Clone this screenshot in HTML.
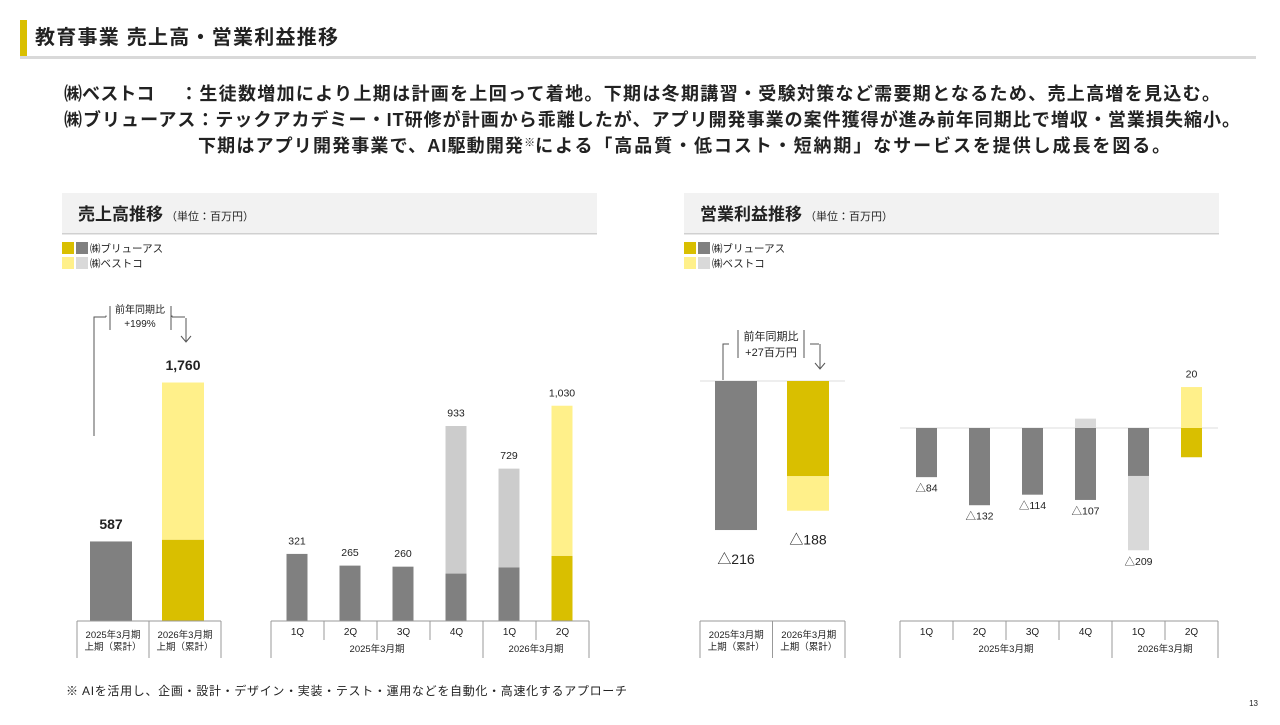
<!DOCTYPE html>
<html><head><meta charset="utf-8">
<style>
body{margin:0;background:#fff;width:1280px;height:720px;overflow:hidden;font-family:"Liberation Sans","Noto Sans CJK JP",sans-serif;}
svg text{font-family:"Liberation Sans","Noto Sans CJK JP",sans-serif;fill:#222;}
</style></head><body>
<svg id="s" width="1280" height="720" xmlns="http://www.w3.org/2000/svg">
<rect x="20" y="20" width="7" height="38" fill="#d9bf00"/>
<rect x="20" y="56" width="1236" height="3" fill="#d9d9d9"/>
<text x="35" y="44" font-size="20" font-weight="bold" textLength="303">教育事業 売上高・営業利益推移</text>
<g font-size="18" font-weight="bold">
<text x="64" y="100">㈱ベストコ</text><text x="180" y="100" textLength="1040">：生徒数増加により上期は計画を上回って着地。下期は冬期講習・受験対策など需要期となるため、売上高増を見込む。</text>
<text x="64" y="126" textLength="1176">㈱ブリューアス：テックアカデミー・IT研修が計画から乖離したが、アプリ開発事業の案件獲得が進み前年同期比で増収・営業損失縮小。</text>
<text x="198" y="152"><tspan textLength="325">下期はアプリ開発事業で、AI駆動開発</tspan><tspan font-size="11" dy="-6" font-weight="normal">※</tspan><tspan dy="6" textLength="635">による「高品質・低コスト・短納期」なサービスを提供し成長を図る。</tspan></text>
</g>
<rect x="62" y="193" width="535" height="41" fill="#f2f2f2"/>
<rect x="62" y="233" width="535" height="1.5" fill="#d0d0d0"/>
<text x="78" y="220" font-size="17" font-weight="bold">売上高推移<tspan font-size="11" font-weight="normal"> （単位：百万円）</tspan></text>
<rect x="684" y="193" width="535" height="41" fill="#f2f2f2"/>
<rect x="684" y="233" width="535" height="1.5" fill="#d0d0d0"/>
<text x="700" y="220" font-size="17" font-weight="bold">営業利益推移<tspan font-size="11" font-weight="normal"> （単位：百万円）</tspan></text>
<g id="legends"></g>
<g id="marks"></g>
<g stroke="#555" fill="none" stroke-width="1">
<path d="M94 436V317h12M172 317h13"/><path d="M106 317v-3M172 317v-3" stroke-dasharray="1.5 1.5"/>
<path d="M110 306v24M171 306v24"/><path d="M186 318v23M181 336l5 6 5-6"/>
<path d="M723 380V344h6M810 344h9"/><path d="M738 330v28M804 330v28"/><path d="M820 344v24M815 363l5 6 5-6"/>
</g>
<text x="140" y="313" font-size="10" text-anchor="middle">前年同期比</text><text x="140" y="327" font-size="10" text-anchor="middle">+199%</text>
<text x="771" y="340" font-size="11" text-anchor="middle">前年同期比</text><text x="771" y="356" font-size="11" text-anchor="middle">+27百万円</text>
<text x="66" y="695" font-size="12" textLength="561">※ AIを活用し、企画・設計・デザイン・実装・テスト・運用などを自動化・高速化するアプローチ</text>
<text x="1258" y="706" font-size="8" text-anchor="end" fill="#666">13</text>
</svg>
<script>
// Sales (百万円)
const salesHalfCats=["2025年3月期上期（累計）","2026年3月期上期（累計）"];
const salesHalfBlue=[587,600];
const salesHalfBest=[0,1160];
const salesHalfTotals=["587","1,760"];
const qCats=["1Q","2Q","3Q","4Q","1Q","2Q"];
const salesQBlue=[321,265,260,227,256,312];
const salesQBest=[0,0,0,706,473,718];
const salesQTotals=["321","265","260","933","729","1,030"];
// Operating profit
const profHalfBlue=[-216,-138];
const profHalfBest=[0,-50];
const profHalfTotals=["△216","△188"];
const profQBlue=[-84,-132,-114,-123,-82,-50];
const profQBest=[0,0,0,16,-127,70];
const profQTotals=["△84","△132","△114","△107","△209","20"];

const NS="http://www.w3.org/2000/svg";
const S=document.getElementById('marks');
function el(t,a,p){const e=document.createElementNS(NS,t);for(const k in a)e.setAttribute(k,a[k]);(p||S).appendChild(e);return e;}
function txt(x,y,s,size,anchor,w){const e=el('text',{x:x,y:y,'font-size':size,'text-anchor':anchor||'middle'});if(w)e.setAttribute('font-weight',w);e.textContent=s;return e;}
const C={b:'#808080',y:'#d9bf00',ly:'#fff08a',lg:'#cccccc'};

function yS(base,k){return v=>base-v*k;}
function xS(start,step){return i=>start+i*step;}

[62,684].forEach(lx=>{
 [[C.y,C.b,'㈱ブリューアス',242],['#fff08a','#d9d9d9','㈱ベストコ',257]].forEach(r=>{
  const a=el('rect',{x:lx,y:r[3],width:12,height:12,fill:r[0]});
  
  
  el('rect',{x:lx+14,y:r[3],width:12,height:12,fill:r[1]});
  const t=txt(lx+28,r[3]+10,r[2],10.5,'start');t.setAttribute('fill','#444');
  
  
 });
});

function stacked(xf,yf,w,blue,best,totals,colorsB,colorsL,size,wt,negOff,name){
 blue.forEach((bv,i)=>{
  const x=xf(i)-w/2, y0=yf(0), y1=yf(bv), y2=yf(bv+best[i]);
  const r1=el('rect',{x:x,y:Math.min(y0,y1),width:w,height:Math.abs(y1-y0),fill:colorsB[i]});
  
  
  if(best[i]!==0){
   let ya,yb;
   if(Math.sign(best[i])===Math.sign(bv)){ya=y1;yb=y2;}else{ya=y0;yb=yf(best[i]);}
   const r2=el('rect',{x:x,y:Math.min(ya,yb),width:w,height:Math.abs(yb-ya),fill:colorsL[i]});
   
   
  }
  const tot=bv+best[i];
  let ly;
  if(tot>=0){ly=Math.min(y0,y1,yf(tot),best[i]>0&&Math.sign(best[i])!==Math.sign(bv)?yf(best[i]):1e9)-size*0.9;}
  else{ly=Math.max(y1,y0,yf(tot))+size+4+negOff;}
  const t=txt(xf(i),ly,totals[i],size,'middle',wt);
  
  
 });
}
stacked(xS(111,72),yS(621,0.1355),42,salesHalfBlue,salesHalfBest,salesHalfTotals,[C.b,C.y],['#fff08a','#fff08a'],14,'bold',0,'sales-half');
stacked(xS(297,53),yS(621,0.209),21,salesQBlue,salesQBest,salesQTotals,[C.b,C.b,C.b,C.b,C.b,C.y],[C.lg,C.lg,C.lg,C.lg,C.lg,'#fff08a'],10.5,null,0,'sales-q');
el('line',{x1:700,y1:381,x2:845,y2:381,stroke:'#ddd'});
stacked(xS(736,72),yS(381,0.69),42,profHalfBlue,profHalfBest,profHalfTotals,[C.b,C.y],['#fff08a','#fff08a'],14,null,16,'profit-half');
el('line',{x1:900,y1:428,x2:1218,y2:428,stroke:'#ddd'});
stacked(xS(926.5,53),yS(428,0.585),21,profQBlue,profQBest,profQTotals,[C.b,C.b,C.b,C.b,C.b,C.y],['#d9d9d9','#d9d9d9','#d9d9d9','#d9d9d9','#d9d9d9','#fff08a'],10.5,null,0,'profit-q');

function halfTable(x0,x1){
 const m=(x0+x1)/2;
 el('path',{d:`M${x0} 621H${x1}M${x0} 621V658M${x1} 621V658M${m} 621V658`,stroke:'#999',fill:'none'});
 salesHalfCats.forEach((c,i)=>{const cx=i?(m+x1)/2:(x0+m)/2;
  const a=txt(cx,638,c.slice(0,8),9.5);
  
  
  txt(cx,650,c.slice(8),9.5);});
}
function qTable(x0,step){
 const x1=x0+step*6;
 let d=`M${x0} 621H${x1}M${x0} 621V658M${x1} 621V658M${x0+step*4} 621V658`;
 [1,2,3,5].forEach(k=>d+=`M${x0+step*k} 621V640`);
 el('path',{d:d,stroke:'#999',fill:'none'});
 qCats.forEach((c,i)=>{const t=txt(x0+step*(i+0.5),635,c,10);
  
  });
 txt(x0+step*2,652,'2025年3月期',9.5);txt(x0+step*5,652,'2026年3月期',9.5);
}
halfTable(77,221);qTable(271,53);
halfTable(700,845);qTable(900,53);
</script>
</body></html>
